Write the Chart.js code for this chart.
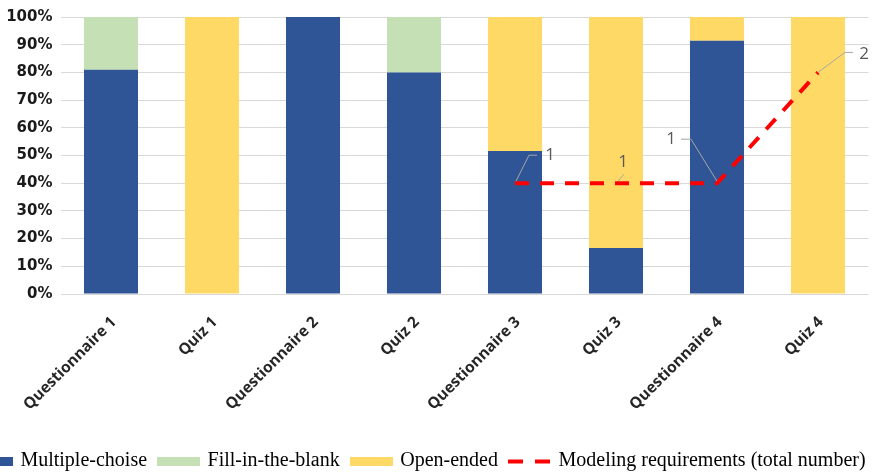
<!DOCTYPE html>
<html>
<head>
<meta charset="utf-8">
<script src="https://cdn.jsdelivr.net/npm/chart.js@4/dist/chart.umd.min.js"></script>
<style>
  html, body { margin: 0; padding: 0; background: #ffffff; overflow: hidden; width: 875px; height: 473px; }
  #wrap { position: absolute; left: -51px; top: 0; width: 940px; height: 481px; }
</style>
</head>
<body>
<div id="wrap"><canvas id="chart"></canvas></div>
<script>
// Question types per activity (share of questions, %)
const categories = ['Questionnaire 1', 'Quiz 1', 'Questionnaire 2', 'Quiz 2', 'Questionnaire 3', 'Quiz 3', 'Questionnaire 4', 'Quiz 4'];
const multipleChoice = [81, 0, 100, 80, 51.6, 16.6, 91.4, 0];
const fillInTheBlank = [19, 0, 0, 20, 0, 0, 0, 0];
const openEnded = [0, 100, 0, 0, 48.4, 83.4, 8.6, 100];
// Modeling requirements (total number), plotted on its own hidden axis
const modelingRequirements = [null, null, null, null, 1, 1, 1, 2];
const percentTickStep = 10;

const BLUE = '#2F5597', GREEN = '#C5E0B4', YELLOW = '#FFD966', RED = '#FF0000';

// Legend swatches drawn into small canvases
function swatch(color) {
  const c = document.createElement('canvas');
  c.width = 43; c.height = 9;
  const g = c.getContext('2d');
  g.fillStyle = color; g.fillRect(0, 0, 43, 9);
  return c;
}
function dashSwatch(color) {
  const c = document.createElement('canvas');
  c.width = 43; c.height = 9;
  const g = c.getContext('2d');
  g.fillStyle = color;
  g.fillRect(0, 3, 15, 4);
  g.fillRect(27, 3, 15, 4);
  return c;
}

// Value labels with leader lines for the line series
const leaderLabels = {
  id: 'leaderLabels',
  afterDatasetsDraw(chart, args, opts) {
    const meta = chart.getDatasetMeta(opts.datasetIndex);
    const values = chart.data.datasets[opts.datasetIndex].data;
    const ctx = chart.ctx;
    ctx.save();
    meta.data.forEach((pt, i) => {
      const v = values[i];
      const c = opts.callouts[i];
      if (v == null || !c) return;
      ctx.beginPath();
      ctx.strokeStyle = opts.lineColor;
      ctx.lineWidth = 1;
      c.path.forEach(([dx, dy], k) => {
        if (k === 0) ctx.moveTo(pt.x + dx, pt.y + dy);
        else ctx.lineTo(pt.x + dx, pt.y + dy);
      });
      ctx.stroke();
      ctx.fillStyle = opts.color;
      ctx.font = opts.font;
      ctx.textAlign = 'center';
      ctx.textBaseline = 'middle';
      ctx.fillText(String(v), pt.x + c.label[0], pt.y + c.label[1]);
    });
    ctx.restore();
  }
};

new Chart(document.getElementById('chart'), {
  type: 'bar',
  data: {
    labels: categories,
    datasets: [
      { label: 'Multiple-choise', data: multipleChoice, backgroundColor: BLUE, order: 1,
        barPercentage: 1, categoryPercentage: 0.535 },
      { label: 'Fill-in-the-blank', data: fillInTheBlank, backgroundColor: GREEN, order: 1,
        barPercentage: 1, categoryPercentage: 0.535 },
      { label: 'Open-ended', data: openEnded, backgroundColor: YELLOW, order: 1,
        barPercentage: 1, categoryPercentage: 0.535 },
      { type: 'line', label: 'Modeling requirements (total number)', data: modelingRequirements,
        yAxisID: 'y1', order: 0, borderColor: RED, backgroundColor: RED, borderWidth: 4,
        borderDash: [14, 11], pointRadius: 0, pointHoverRadius: 0, fill: false, tension: 0 }
    ]
  },
  options: {
    responsive: true,
    maintainAspectRatio: false,
    animation: false,
    layout: { padding: { top: 17, left: 0, right: 0, bottom: 0 } },
    scales: {
      x: {
        stacked: true,
        grid: { display: false },
        border: { display: false },
        ticks: {
          autoSkip: false, minRotation: 45, maxRotation: 45, padding: 11, labelOffset: 3,
          color: '#262626', font: { family: 'Open Sans', weight: 'bold', size: 15.5 }
        },
        afterFit(s) { s.height = 144.5; }
      },
      y: {
        stacked: true,
        min: 0, max: 100,
        grid: { color: '#D9D9D9', lineWidth: 1, drawTicks: false },
        border: { display: false },
        ticks: {
          stepSize: percentTickStep, padding: 8,
          color: '#1a1a1a', font: { family: 'DejaVu Sans', weight: 'bold', size: 15 },
          callback: (v) => v + '%'
        },
        afterFit(s) { s.width = 111.5; }
      },
      y1: {
        position: 'right',
        min: 0, max: 2.5,
        grid: { display: false },
        border: { display: false },
        ticks: { display: false },
        afterFit(s) { s.width = 20.5; }
      }
    },
    plugins: {
      tooltip: { enabled: false },
      legend: {
        position: 'bottom',
        labels: {
          usePointStyle: true,
          pointStyleWidth: 38,
          boxHeight: 9,
          padding: 12.5,
          color: '#1a1a1a',
          font: { family: 'Liberation Serif', size: 20 },
          generateLabels(chart) {
            const ds = chart.data.datasets;
            const styles = [swatch(BLUE), swatch(GREEN), swatch(YELLOW), dashSwatch(RED)];
            return ds.map((d, i) => ({
              text: d.label, datasetIndex: i, hidden: false,
              fillStyle: d.backgroundColor, strokeStyle: d.backgroundColor,
              lineWidth: 0, pointStyle: styles[i]
            }));
          }
        }
      },
      leaderLabels: {
        datasetIndex: 3,
        color: '#595959',
        lineColor: '#A6A6A6',
        font: '17px "Open Sans"',
        callouts: {
          4: { path: [[1, -2], [14, -28], [22, -28]], label: [35, -28] },
          5: { path: [[2, -2], [8, -9]], label: [7, -21] },
          6: { path: [[0, -2], [-26, -44], [-36, -44]], label: [-46, -44] },
          7: { path: [[0, 0], [27, -20], [35, -20]], label: [46, -18] }
        }
      }
    }
  },
  plugins: [leaderLabels]
});
</script>
</body>
</html>
